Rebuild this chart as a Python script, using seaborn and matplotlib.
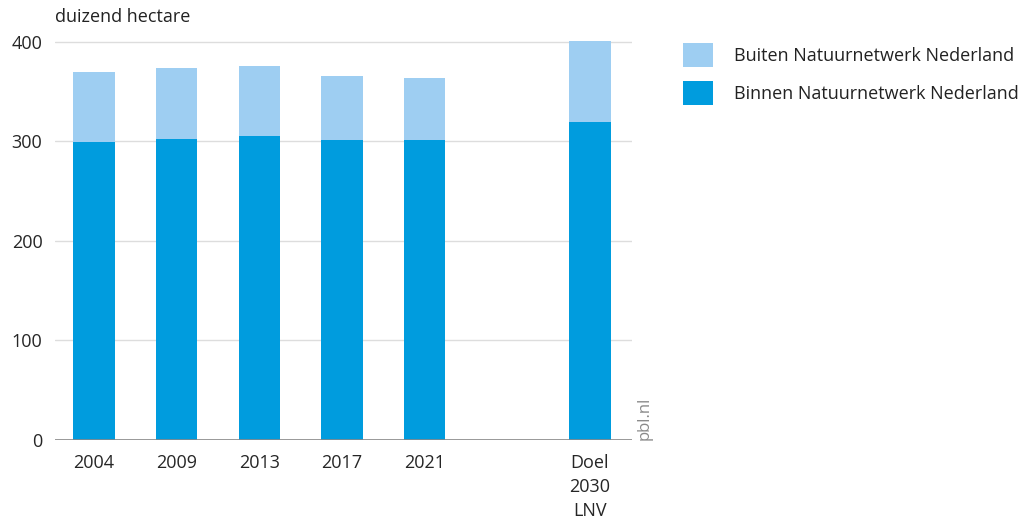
import matplotlib
matplotlib.use('Agg')
import matplotlib.pyplot as plt
import seaborn as sns
import pandas as pd
from matplotlib.patches import Patch

# ── Data (duizend hectare) ────────────────────────────────────────────────────
categories = ['2004', '2009', '2013', '2017', '2021', 'Doel\n2030\nLNV']
binnen     = [299, 303, 306, 302, 301, 320]
totaal     = [370, 374, 376, 366, 364, 401]

DARK  = '#009CDE'
LIGHT = '#9ECEF2'
FONT  = ['Open Sans', 'DejaVu Sans']

# the target bar stands apart: leave one empty slot before it
positions = list(range(len(categories) - 1)) + [len(categories)]

df = pd.DataFrame({'pos': positions, 'cat': categories,
                   'binnen': binnen, 'totaal': totaal})

sns.set_theme(style='white')
plt.rcParams['font.family'] = FONT
plt.rcParams['text.color'] = '#222222'

fig = plt.figure(figsize=(10.25, 5.2), dpi=100)
ax = fig.add_axes([55 / 1025, 1 - 440 / 520, (632 - 55) / 1025, (440 - 40) / 520])

for y in [100, 200, 300, 400]:
    ax.axhline(y, color='#dddddd', linewidth=1.0, zorder=0)

sns.barplot(data=df, x='pos', y='totaal', native_scale=True, width=0.5,
            color=LIGHT, saturation=1, linewidth=0, ax=ax, zorder=2)
sns.barplot(data=df, x='pos', y='binnen', native_scale=True, width=0.5,
            color=DARK, saturation=1, linewidth=0, ax=ax, zorder=3)

ax.axhline(0, color='#888888', linewidth=1.2, zorder=4)

ax.set_xlim(-0.47, 6.51)
ax.set_ylim(0, 402)
ax.set_xticks(positions)
ax.set_xticklabels(categories, fontsize=13, linespacing=1.45, va='top')
ax.set_yticks([0, 100, 200, 300, 400])
ax.set_yticklabels(['0', '100', '200', '300', '400'], fontsize=13)
ax.tick_params(axis='x', length=0, pad=10)
ax.tick_params(axis='y', length=0, pad=9)
ax.set_xlabel('')
ax.set_ylabel('')
for s in ax.spines.values():
    s.set_visible(False)

fig.text(55 / 1025, 1 - 17 / 520, 'duizend hectare', fontsize=13,
         va='center', ha='left')
fig.text(645 / 1025, 1 - 440 / 520, 'pbl.nl', fontsize=12, color='#8a8a8a',
         rotation=90, ha='center', va='bottom')

handles = [Patch(facecolor=LIGHT, edgecolor='none'),
           Patch(facecolor=DARK, edgecolor='none')]
fig.legend(handles, ['Buiten Natuurnetwerk Nederland',
                     'Binnen Natuurnetwerk Nederland'],
           loc='upper left', bbox_to_anchor=(683 / 1025, 1 - 43 / 520),
           frameon=False, fontsize=13, borderpad=0, borderaxespad=0,
           handlelength=1.65, handleheight=1.7, handletextpad=1.2,
           labelspacing=0.75)

fig.savefig('out.png', dpi=100)
